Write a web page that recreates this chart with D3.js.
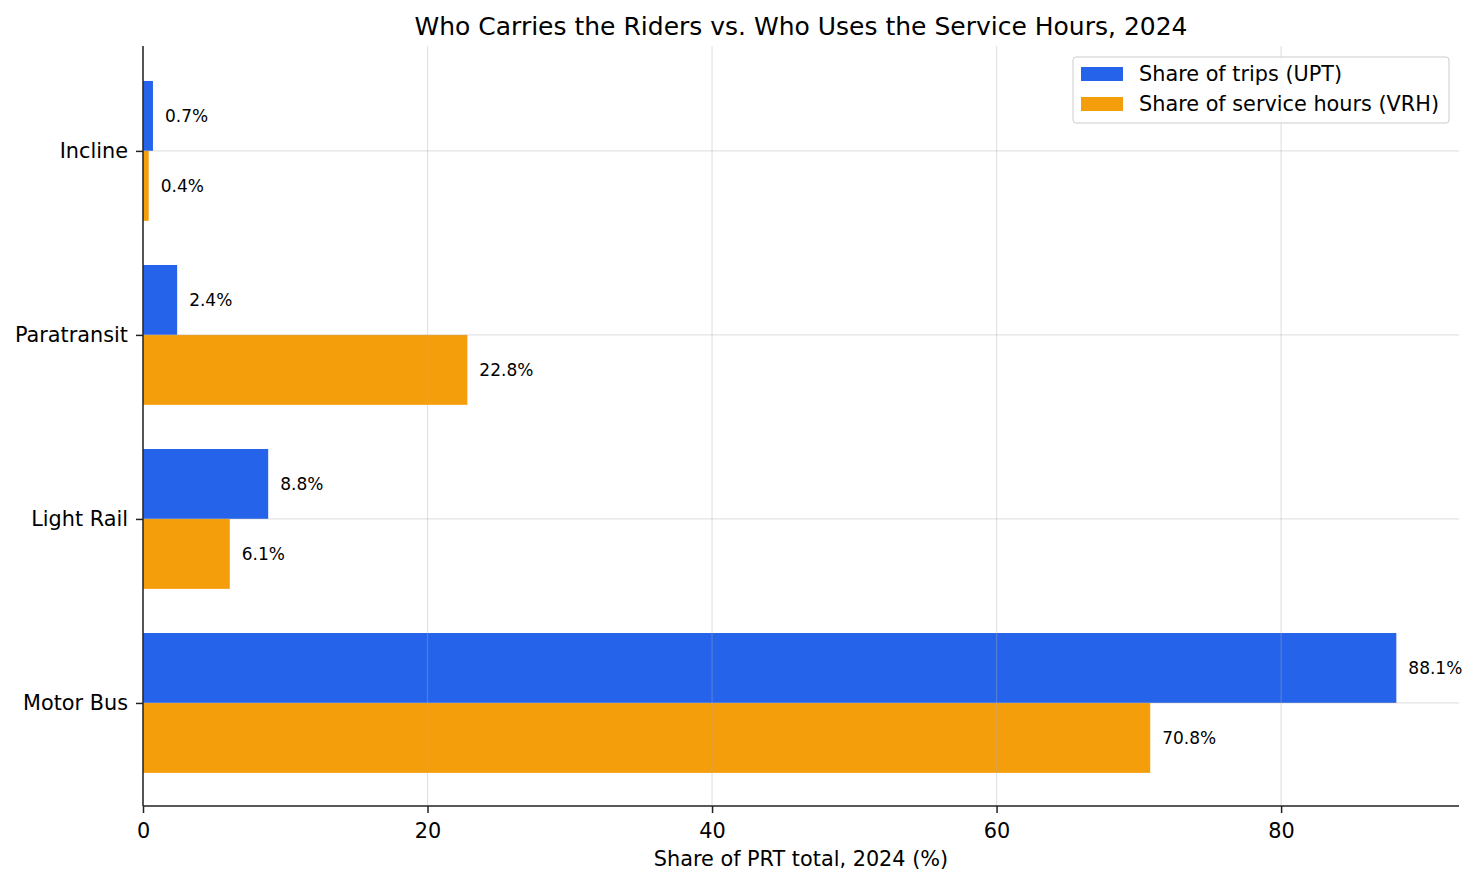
<!DOCTYPE html>
<html>
<head>
<meta charset="utf-8">
<script src="https://cdn.jsdelivr.net/npm/d3@7"></script>
<style>
  body { margin: 0; background: #fff; }
  text { font-family: "DejaVu Sans", sans-serif; fill: #000; }
</style>
</head>
<body>
<script>
(function(){

    //chart data, bottom to top
    var categories = ["Motor Bus", "Light Rail", "Paratransit", "Incline"];
    var tripShare = [88.1, 8.8, 2.4, 0.7];     //share of trips (UPT)
    var hoursShare = [70.8, 6.1, 22.8, 0.4];   //share of service hours (VRH)
    var xTicks = [0, 20, 40, 60, 80];
    var seriesNames = ["Share of trips (UPT)", "Share of service hours (VRH)"];

    var width = 1479, height = 885;
    var left = 143, right = 1459, top = 46, bottom = 806;
    var colors = ["#2563eb", "#f59e0b"];

    var svg = d3.select("body").append("svg")
        .attr("width", width)
        .attr("height", height);

    //x scale, padded a little past the biggest bar
    var x = d3.scaleLinear()
        .domain([0, d3.max(tripShare.concat(hoursShare)) * 1.05])
        .range([left, right]);

    //y scale in category index units like a barh plot
    var y = d3.scaleLinear()
        .domain([-0.56, categories.length - 1 + 0.57])
        .range([bottom, top]);

    var barH = 0.38;

    //bars
    var series = [tripShare, hoursShare];
    series.forEach(function(vals, s){
        svg.append("g").selectAll("rect")
            .data(vals)
            .enter()
            .append("rect")
            .attr("x", x(0))
            .attr("y", function(d, i){ return s === 0 ? y(i + barH) : y(i); })
            .attr("width", function(d){ return x(d) - x(0); })
            .attr("height", y(0) - y(barH))
            .attr("fill", colors[s]);

        //value labels
        svg.append("g").selectAll("text")
            .data(vals)
            .enter()
            .append("text")
            .attr("x", function(d){ return x(d) + 12; })
            .attr("y", function(d, i){ return s === 0 ? y(i + barH / 2) : y(i - barH / 2); })
            .attr("dy", "0.35em")
            .attr("font-size", "17px")
            .text(function(d){ return d.toFixed(1) + "%"; });
    });

    //grid lines drawn over the bars
    var grid = svg.append("g");
    grid.selectAll(".vgrid")
        .data(xTicks)
        .enter()
        .append("line")
        .attr("x1", function(d){ return x(d); })
        .attr("x2", function(d){ return x(d); })
        .attr("y1", top)
        .attr("y2", bottom)
        .attr("stroke", "#b0b0b0")
        .attr("stroke-opacity", 0.35)
        .attr("stroke-width", 1.2);
    grid.selectAll(".hgrid")
        .data(categories)
        .enter()
        .append("line")
        .attr("x1", left)
        .attr("x2", right)
        .attr("y1", function(d, i){ return y(i); })
        .attr("y2", function(d, i){ return y(i); })
        .attr("stroke", "#b0b0b0")
        .attr("stroke-opacity", 0.35)
        .attr("stroke-width", 1.2);

    //x axis
    var xAxis = svg.append("g")
        .attr("transform", "translate(0," + bottom + ")")
        .call(d3.axisBottom(x).tickValues(xTicks).tickSize(7).tickPadding(10).tickFormat(d3.format("d")));
    xAxis.select(".domain").attr("stroke", "#222").attr("stroke-width", 1.5)
        .attr("d", "M" + left + ",0H" + right);
    xAxis.selectAll(".tick line").attr("stroke", "#222").attr("stroke-width", 1.5);
    xAxis.selectAll(".tick text").attr("font-size", "20.8px").attr("font-family", "DejaVu Sans");

    //y axis
    var yAxis = svg.append("g")
        .attr("transform", "translate(" + left + ",0)")
        .call(d3.axisLeft(y).tickValues(d3.range(categories.length)).tickSize(7).tickPadding(8)
            .tickFormat(function(d){ return categories[d]; }));
    yAxis.select(".domain").attr("stroke", "#222").attr("stroke-width", 1.5)
        .attr("d", "M0," + top + "V" + bottom);
    yAxis.selectAll(".tick line").attr("stroke", "#222").attr("stroke-width", 1.5);
    yAxis.selectAll(".tick text").attr("font-size", "20.8px").attr("font-family", "DejaVu Sans");

    //title and axis label
    svg.append("text")
        .attr("x", (left + right) / 2)
        .attr("y", 26)
        .attr("dy", "0.35em")
        .attr("text-anchor", "middle")
        .attr("font-size", "25px")
        .text("Who Carries the Riders vs. Who Uses the Service Hours, 2024");

    svg.append("text")
        .attr("x", (left + right) / 2)
        .attr("y", 859)
        .attr("dy", "0.35em")
        .attr("text-anchor", "middle")
        .attr("font-size", "20.8px")
        .text("Share of PRT total, 2024 (%)");

    //legend
    var legend = svg.append("g");
    legend.append("rect")
        .attr("x", 1073).attr("y", 57)
        .attr("width", 376).attr("height", 66)
        .attr("rx", 3)
        .attr("fill", "#fff").attr("fill-opacity", 0.8)
        .attr("stroke", "#cccccc");
    seriesNames.forEach(function(name, i){
        legend.append("rect")
            .attr("x", 1081).attr("y", 67 + i * 30)
            .attr("width", 42).attr("height", 14)
            .attr("fill", colors[i]);
        legend.append("text")
            .attr("x", 1139).attr("y", 74 + i * 30)
            .attr("dy", "0.35em")
            .attr("font-size", "20.8px")
            .text(name);
    });

})();
</script>
</body>
</html>
